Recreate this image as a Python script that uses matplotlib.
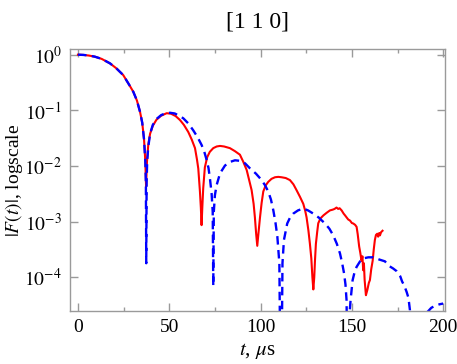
import matplotlib
matplotlib.use("Agg")
import matplotlib.pyplot as plt
from matplotlib.ticker import FixedLocator, MultipleLocator, NullLocator

plt.rcParams['font.family'] = ['Liberation Serif', 'DejaVu Serif']
plt.rcParams['mathtext.fontset'] = 'stix'

# measured |F(t)| (red, solid)
t_meas = [0, 3, 6, 9.3, 13, 17.5, 21, 24.8, 28, 30.3, 32.3, 34, 35.2, 36.2, 36.9, 37.3,
          37.8, 38.5, 39.5, 41, 43, 45.5, 48.6, 51, 53.5, 55.9, 58, 60.4, 62.3, 64.1,
          65.2, 65.9, 66.8, 67.3, 67.7, 68.1, 68.6, 69.5, 70.8, 72.2, 74.1, 76, 77.8,
          80, 83.2, 86, 88.7, 90.5, 92.4, 94, 95.1, 96.2, 96.9, 97.6, 98.2, 98.8, 99.7,
          100.6, 101.5, 102.8, 104.2, 106, 107.9, 109.7, 111.5, 113.8, 116.1, 118,
          119.7, 121.6, 123.4, 124.4, 125.2, 126.2, 127.0, 127.8, 128.4, 128.9, 129.4,
          129.8, 130.3, 131.0, 131.6, 132.8, 134.4, 136.2, 138.0, 139.5, 140.5, 141.6,
          142.5, 143.3, 144.4, 145.5, 146.3, 147.1, 148, 149, 150, 150.8, 151.8, 152.6,
          153.2, 154.0, 154.6, 155.3, 155.8, 156.2, 156.6, 157.0, 157.7, 158.5, 159.3,
          159.9, 160.6, 161.4, 162.0, 162.6, 163.2, 163.9, 164.4, 165.0, 165.4, 166.0,
          166.8]
F_meas = [1.0, 0.99, 0.965, 0.92, 0.84, 0.70, 0.57, 0.43, 0.29, 0.216, 0.15, 0.094, 0.06,
          0.03, 0.012, 0.0043, 0.012, 0.024, 0.038, 0.053, 0.068, 0.08, 0.089, 0.087,
          0.079, 0.067, 0.055, 0.041, 0.03, 0.021, 0.013, 0.009, 0.0035, 0.0018, 0.00087,
          0.0018, 0.004, 0.0095, 0.0145, 0.018, 0.021, 0.0225, 0.023, 0.0225, 0.021,
          0.0185, 0.016, 0.012, 0.0085, 0.0052, 0.0037, 0.0021, 0.0012, 0.0006, 0.00037,
          0.0006, 0.0012, 0.0022, 0.0035, 0.0045, 0.0052, 0.0059, 0.0063, 0.0064, 0.0063,
          0.0061, 0.0056, 0.0047, 0.0037, 0.0028, 0.0021, 0.0016, 0.0012, 0.0007, 0.00041,
          0.00022, 0.0001, 6.1e-5, 0.0001, 0.0002, 0.0004, 0.00065, 0.00094, 0.00115,
          0.0013, 0.00145, 0.0016, 0.00165, 0.0017, 0.0018, 0.0017, 0.00175, 0.0016,
          0.0014, 0.0013, 0.0012, 0.0011, 0.00105, 0.00095, 0.00093, 0.00088, 0.00081,
          0.0006, 0.00036, 0.00028, 0.0002, 0.00024, 0.000135, 0.00018, 9e-5, 4.8e-5,
          6e-5, 8e-5, 9e-5, 0.00014, 0.0002, 0.00032, 0.00047, 0.00058, 0.00061, 0.00054,
          0.00063, 0.00057, 0.00065, 0.00069]

# theory |F(t)| (blue, dashed)
t_theo = [0, 3, 6, 9.3, 13, 17.5, 21, 24.8, 28, 30.3, 32.3, 34, 35.2, 36.2, 36.9, 37.2,
          37.4, 37.6, 37.9, 38.5, 39.5, 41, 43, 45.5, 48, 50.4, 53, 55.5, 57.7, 60.5,
          63.1, 65.5, 67.7, 69.2, 70.5, 71.5, 72.3, 73.2, 73.8, 74.1, 74.4, 75.0, 75.9,
          77.8, 80.5, 83, 86, 89, 91.5, 94.2, 97.5, 100.6, 102.5, 104.2, 105.7, 107,
          108.2, 109.2, 110.3, 111.2, 112, 112.8, 114.6, 116.2, 117.9, 120.5, 123.4, 126,
          128.9, 132, 135.3, 137.7, 139.8, 141.8, 143.5, 144.7, 145.7, 146.5, 147.1,
          147.9, 148.6, 149.3, 150.4, 151.5, 152.6, 154.5, 156.2, 159, 161.7, 165, 168.1,
          170.5, 172.6, 174.5, 176.5, 177.5, 178.8, 180, 181, 181.8, 183.2, 185, 187,
          189.5, 191.9, 193.5, 195.5, 198, 200]
F_theo = [1.0, 0.99, 0.965, 0.92, 0.84, 0.70, 0.57, 0.43, 0.29, 0.216, 0.15, 0.094, 0.06,
          0.03, 0.012, 0.005, 0.00018, 0.005, 0.012, 0.022, 0.038, 0.055, 0.07, 0.082,
          0.089, 0.0906, 0.088, 0.08, 0.072, 0.058, 0.044, 0.033, 0.024, 0.018, 0.0128,
          0.0092, 0.0059, 0.0032, 0.0015, 7e-5, 0.0015, 0.003, 0.0045, 0.0074, 0.0102,
          0.0118, 0.0127, 0.0124, 0.0112, 0.0091, 0.0073, 0.0056, 0.0045, 0.0035, 0.0025,
          0.0016, 0.00095, 0.00054, 0.00018, 1e-7, 0.00018, 0.00047, 0.00093, 0.0012,
          0.0014, 0.0016, 0.00173, 0.0016, 0.0014, 0.00118, 0.00093, 0.00075, 0.00057,
          0.0004, 0.00027, 0.00018, 0.00012, 7.5e-5, 3.9e-5, 1e-7, 2e-5, 3.9e-5, 8.9e-5,
          1.25e-4, 1.55e-4, 1.95e-4, 2.2e-4, 2.3e-4, 2.3e-4, 2.1e-4, 1.95e-4, 1.6e-4,
          1.45e-4, 1.3e-4, 1.05e-4, 8.5e-5, 7e-5, 5.5e-5, 4.3e-5, 2.6e-5, 1e-7, 8e-6,
          1.5e-5, 2.1e-5, 2.5e-5, 2.85e-5, 3.1e-5, 3.3e-5, 3.4e-5]

title_text = "[1 1 0]"
xlabel_text = r"$t$, $\mu$s"
ylabel_text = r"$|F(t)|$, logscale"
x_ticks = [0, 50, 100, 150, 200]
y_ticks = [1e-4, 1e-3, 1e-2, 1e-1, 1e0]
y_ticklabels = [r"$10^{-4}$", r"$10^{-3}$", r"$10^{-2}$", r"$10^{-1}$", r"$10^{0}$"]

fig = plt.figure(figsize=(4.57, 3.64), dpi=100)
ax = fig.add_axes([0.1538, 0.1456, 0.8199, 0.719])

ax.plot(t_meas, F_meas, color=(1, 0, 0), lw=1.5, solid_joinstyle='round')
ax.plot(t_theo, F_theo, color=(0, 0, 1), lw=1.7, linestyle=(0, (3.6, 2.3)))

ax.set_yscale('log')
ax.set_xlim(-4.2, 201)
ax.set_ylim(2.5e-5, 1.25)

frame_c = '#9a9a9a'
for s in ax.spines.values():
    s.set_color(frame_c)
    s.set_linewidth(1.0)

ax.xaxis.set_major_locator(FixedLocator(x_ticks))
ax.xaxis.set_minor_locator(MultipleLocator(25))
ax.yaxis.set_major_locator(FixedLocator(y_ticks))
ax.yaxis.set_minor_locator(NullLocator())
ax.set_yticklabels(y_ticklabels)
ax.tick_params(which='both', direction='in', top=True, right=True, color=frame_c,
               labelsize=14, labelcolor='black', width=1.0)
ax.tick_params(which='major', length=5.5, pad=6)
ax.tick_params(which='minor', length=3)

ax.set_title(title_text, fontsize=17, pad=16)
ax.set_xlabel(xlabel_text, fontsize=15, labelpad=3)
ax.set_ylabel(ylabel_text, fontsize=14)
ax.yaxis.set_label_coords(-0.12, 0.5)

fig.savefig("out.png", dpi=100)
